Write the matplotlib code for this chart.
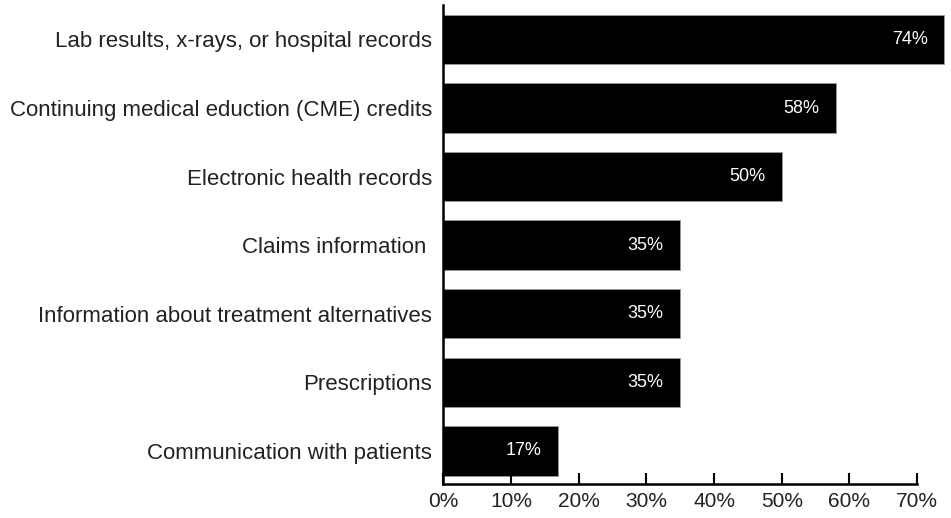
import matplotlib.pyplot as plt

plt.rcParams['font.family'] = ['Liberation Sans', 'DejaVu Sans']

# Data
categories = [
    'Lab results, x-rays, or hospital records',
    'Continuing medical eduction (CME) credits',
    'Electronic health records',
    'Claims information ',
    'Information about treatment alternatives',
    'Prescriptions',
    'Communication with patients',
]
values = [74, 58, 50, 35, 35, 35, 17]
xticks = [0, 10, 20, 30, 40, 50, 60, 70]
xtick_labels = ['0%', '10%', '20%', '30%', '40%', '50%', '60%', '70%']

fig = plt.figure(figsize=(9.51, 5.18), dpi=100)
ax = fig.add_axes([0.466, 0.066, 0.534, 0.924])

pos = list(range(len(categories)))
bars = ax.barh(pos, values, height=0.72, color='black', edgecolor='#999999', linewidth=0.6)

# value labels inside the bars
for p, v in zip(pos, values):
    ax.annotate(f'{v}%', xy=(v, p), xytext=(-12, 0), textcoords='offset points',
                ha='right', va='center', color='white', fontsize=13)

ax.set_ylim(6.48, -0.5)
ax.set_xlim(0, 75)
ax.set_yticks(pos)
ax.set_yticklabels(categories, fontsize=16, color='#222222')
ax.set_xticks(xticks)
ax.set_xticklabels(xtick_labels, fontsize=15, color='#222222')

ax.tick_params(axis='y', length=0, pad=8)
ax.tick_params(axis='x', direction='in', length=8, width=1.5, pad=6)

ax.spines['top'].set_visible(False)
ax.spines['right'].set_visible(False)
ax.spines['left'].set_linewidth(1.8)
ax.spines['bottom'].set_linewidth(1.8)
ax.spines['bottom'].set_bounds(0, 70)

fig.savefig('out.png', dpi=100)
